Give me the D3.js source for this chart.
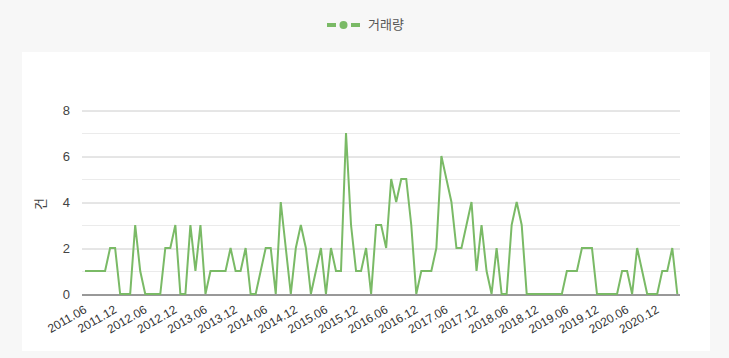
<!DOCTYPE html>
<html>
<head>
<meta charset="utf-8">
<script src="https://cdn.jsdelivr.net/npm/d3@7"></script>
<style>
  html, body { margin: 0; padding: 0; background: #f7f7f7; }
  svg { display: block; }
</style>
</head>
<body>
<svg id="chart" width="729" height="358"></svg>
<script>
// ---- data ----
const startYear = 2011, startMonth = 6;
const values = [
  1,1,1,1,1,2,2,0,0,0,3,1,0,0,0,0,2,2,3,0,
  0,3,1,3,0,1,1,1,1,2,1,1,2,0,0,1,2,2,0,4,
  2,0,2,3,2,0,1,2,0,2,1,1,7,3,1,1,2,0,3,3,
  2,5,4,5,5,3,0,1,1,1,2,6,5,4,2,2,3,4,1,3,
  1,0,2,0,0,3,4,3,0,0,0,0,0,0,0,0,1,1,1,2,
  2,2,0,0,0,0,0,1,1,0,2,1,0,0,0,1,1,2,0
];
const categories = values.map((v, i) => {
  const m = startMonth - 1 + i;
  const y = startYear + Math.floor(m / 12);
  const mm = (m % 12) + 1;
  return y + "." + String(mm).padStart(2, "0");
});
const tickLabels = categories.filter((c, i) => i % 6 === 0);
const yTicks = [0, 2, 4, 6, 8];
const yMinor = [1, 3, 5, 7];
const seriesName = "거래량";
const yTitle = "건";

// ---- layout ----
const svg = d3.select("#chart");
const color = "#7aba66";
const fontLatin = "'Liberation Sans', Arial, sans-serif";
const fontKr = "'Noto Sans CJK KR', 'Noto Sans', sans-serif";

// white panel
svg.append("rect").attr("x", 22).attr("y", 52).attr("width", 688).attr("height", 299).attr("fill", "#fff");

const x = d3.scalePoint().domain(categories).range([85, 677.3]);
const y = d3.scaleLinear().domain([0, 8]).range([294, 110]);
const gx0 = 82, gx1 = 680;

// minor grid
svg.append("g").selectAll("line").data(yMinor).join("line")
  .attr("x1", gx0).attr("x2", gx1)
  .attr("y1", d => Math.round(y(d)) + 0.5).attr("y2", d => Math.round(y(d)) + 0.5)
  .attr("stroke", "#ebebeb").attr("stroke-width", 1);

// major grid via axis
const yAxis = d3.axisLeft(y).tickValues(yTicks).tickSize(-(gx1 - gx0)).tickPadding(12);
const gy = svg.append("g").attr("transform", `translate(${gx0},0.5)`).call(yAxis);
gy.select(".domain").remove();
gy.selectAll(".tick line").attr("stroke", d => d === 0 ? "#333" : "#cccccc");
gy.selectAll(".tick text").attr("font-family", fontLatin).attr("font-size", 13).attr("fill", "#444");

// y title
svg.append("text")
  .attr("transform", "translate(41,204) rotate(-90)")
  .attr("text-anchor", "middle").attr("dominant-baseline", "middle")
  .attr("font-family", fontKr).attr("font-size", 13).attr("fill", "#444")
  .text(yTitle);

// x axis labels
const xAxis = d3.axisBottom(x).tickValues(tickLabels).tickSize(0).tickPadding(0);
const gxA = svg.append("g").attr("transform", "translate(0,294)").call(xAxis);
gxA.select(".domain").remove();
gxA.selectAll(".tick text")
  .attr("font-family", fontLatin).attr("font-size", 12).attr("fill", "#333")
  .attr("text-anchor", "end").attr("dy", null).attr("y", null)
  .attr("transform", "translate(2,18) rotate(-30)");

// line
const line = d3.line().x((d, i) => x(categories[i])).y(d => y(d));
svg.append("path").datum(values)
  .attr("d", line).attr("fill", "none")
  .attr("stroke", color).attr("stroke-width", 2).attr("stroke-linejoin", "miter");

// legend
const lg = svg.append("g");
lg.append("rect").attr("x", 327).attr("y", 23).attr("width", 9).attr("height", 4).attr("fill", color);
lg.append("circle").attr("cx", 343.5).attr("cy", 25).attr("r", 4).attr("fill", color);
lg.append("rect").attr("x", 351).attr("y", 23).attr("width", 9).attr("height", 4).attr("fill", color);
lg.append("text").attr("x", 368).attr("y", 25)
  .attr("dominant-baseline", "middle")
  .attr("font-family", fontKr).attr("font-size", 13).attr("fill", "#555")
  .text(seriesName);
</script>
</body>
</html>
